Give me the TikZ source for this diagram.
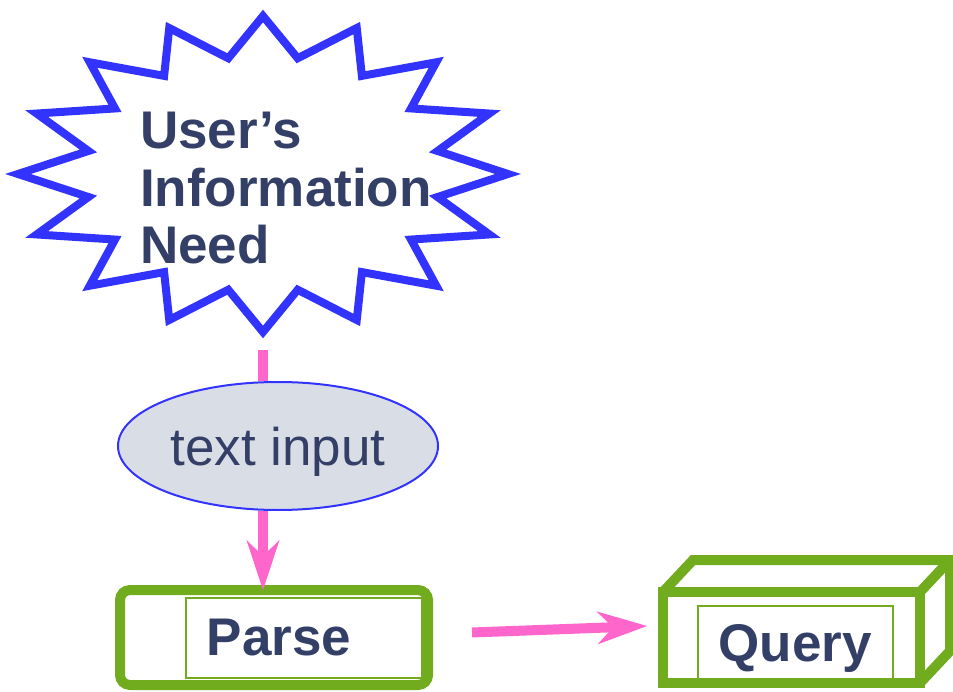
\documentclass[tikz,border=0pt]{standalone}
\usepackage{fontspec}
\setmainfont{Liberation Sans}
\usepackage{tikz}
\usetikzlibrary{shapes.geometric, arrows.meta}

\definecolor{burstblue}{RGB}{51,51,255}
\definecolor{flowpink}{RGB}{255,102,204}
\definecolor{boxgreen}{RGB}{112,172,30}
\definecolor{labelnavy}{RGB}{51,63,102}
\definecolor{ellgray}{RGB}{217,222,230}

\begin{document}
\begin{tikzpicture}[
            x=1pt, y=-1pt, % one unit per pixel, y running down
            burst/.style={draw=burstblue, line width=8pt, line join=miter, fill=white}, % Star outline
            flow/.style={draw=flowpink, line width=10pt}, % Pink connectors
            pinktip/.style={-{Stealth[length=50pt, width=33pt, inset=16pt, line width=1pt]}}, % Arrow head
            bigbox/.style={draw=boxgreen, line width=10pt, inner sep=0pt, outer sep=0pt}, % Thick green frame
            thinbox/.style={draw=boxgreen, line width=1.5pt, inner sep=0pt, outer sep=0pt}, % Inner frame
            boldtext/.style={text=labelnavy, font=\fontsize{53}{57.5}\selectfont\bfseries, inner sep=0pt}, % Bold labels
            inputell/.style={ellipse, draw=burstblue, line width=2pt, fill=ellgray, text=labelnavy, text depth=0pt,
                font=\fontsize{53}{57.5}\selectfont, minimum width=320pt, minimum height=128pt, inner sep=0pt} % Oval
            ]

                \useasboundingbox (0,0) rectangle (953,692);

                % Star with the information need
                \draw[burst] (263+245,174) \foreach \k in {0,...,15} {
                    -- ({263+178*cos(22.5*\k+11.25)},{174-118*sin(22.5*\k+11.25)})
                    -- ({263+245*cos(22.5*\k+22.5)},{174-158*sin(22.5*\k+22.5)})
                } -- cycle;
                \node[boldtext, align=left, anchor=north west] (need) at (140,112) {User’s\\Information\\Need};
                \coordinate (needtip) at (263,350);

                % Oval and boxes
                \node[inputell] (input) at (278,446) {text input};
                \node[bigbox, rounded corners=10pt, minimum width=308pt, minimum height=95pt] (parse) at (274,637.5) {};
                \node[thinbox, minimum width=236pt, minimum height=80pt] (parseinner) at (304,638) {};
                \node[boldtext, anchor=base] (parsetext) at (279,655) {Parse};

                \node[bigbox, minimum width=257pt, minimum height=91pt] (query) at (791.5,637.5) {};
                \node[thinbox, minimum width=195pt, minimum height=77pt] (queryinner) at (795.5,644.5) {};
                \node[boldtext, anchor=base] (querytext) at (795,661) {Query};
                \draw[bigbox, line join=miter] (query.north west) -- ++(30,-32) -- ++(257,0) -- ++(0,91) -- (query.south east);
                \draw[bigbox] (query.north east) -- ++(30,-32);

                % Connectors
                \draw[flow] (needtip) -- (needtip |- input.north);
                \draw[flow, pinktip] (needtip |- input.south) -- (needtip |- parse.north);
                \draw[flow, pinktip] ([xshift=44pt, yshift=5pt]parse.east) -- ([xshift=-16pt, yshift=11.5pt]query.west);

            \end{tikzpicture}
\end{document}
